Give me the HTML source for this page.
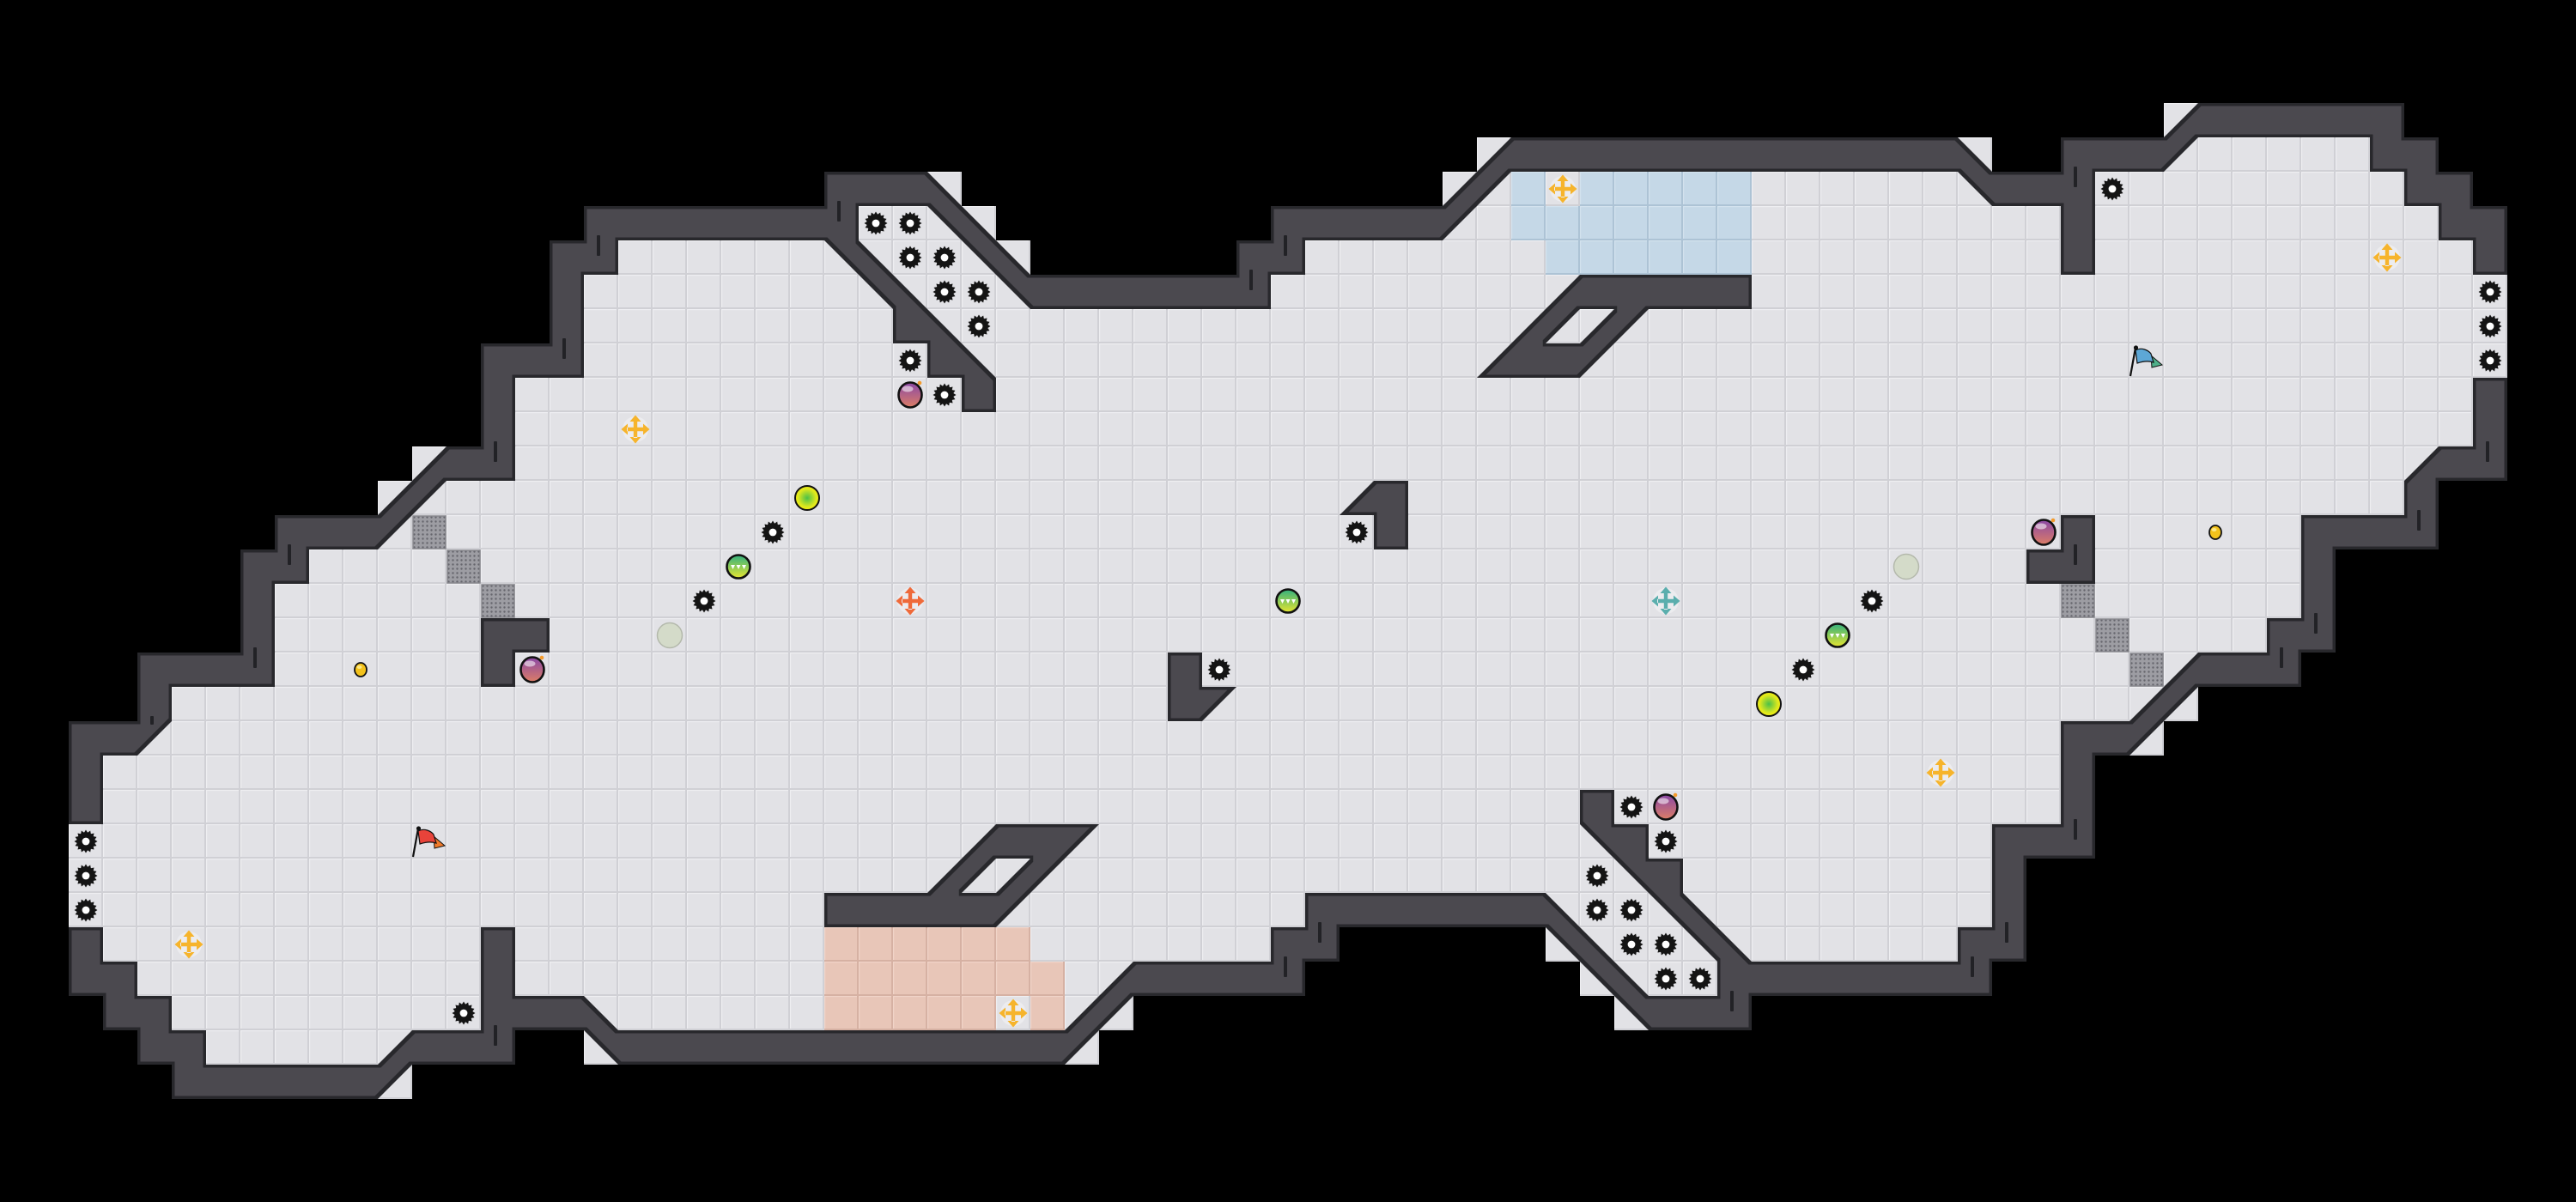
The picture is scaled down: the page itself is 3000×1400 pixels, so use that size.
<!DOCTYPE html>
<html><head><meta charset="utf-8"><style>
html,body{margin:0;padding:0;background:#000;}
svg{display:block;}
</style></head><body>
<svg xmlns="http://www.w3.org/2000/svg" xmlns:xlink="http://www.w3.org/1999/xlink" width="3000" height="1400" viewBox="0 0 3000 1400">
<defs>
<pattern id="fl" width="40" height="40" patternUnits="userSpaceOnUse">
<rect width="40" height="40" fill="#e2e2e6"/>
<rect width="40" height="1.2" fill="#eeeef1"/>
<rect width="1.2" height="40" fill="#eeeef1"/>
<rect x="38" width="2" height="40" fill="#d0d0d5"/>
<rect y="38" width="40" height="2" fill="#d0d0d5"/>
</pattern>
<pattern id="bl" width="40" height="40" patternUnits="userSpaceOnUse">
<rect width="40" height="40" fill="#c5d8e7"/>
<rect width="40" height="1.2" fill="#d3e2ee"/>
<rect width="1.2" height="40" fill="#d3e2ee"/>
<rect x="38" width="2" height="40" fill="#adc3d5"/>
<rect y="38" width="40" height="2" fill="#adc3d5"/>
</pattern>
<pattern id="pc" width="40" height="40" patternUnits="userSpaceOnUse">
<rect width="40" height="40" fill="#e8c6b8"/>
<rect width="40" height="1.2" fill="#f0d4c8"/>
<rect width="1.2" height="40" fill="#f0d4c8"/>
<rect x="38" width="2" height="40" fill="#d6b1a3"/>
<rect y="38" width="40" height="2" fill="#d6b1a3"/>
</pattern>
<pattern id="mp" width="5" height="5" patternUnits="userSpaceOnUse">
<rect width="5" height="5" fill="#9d9da3"/>
<circle cx="2.5" cy="2.5" r="1.2" fill="#66666d"/>
</pattern>
<filter id="er" filterUnits="userSpaceOnUse" x="0" y="0" width="3000" height="1400">
<feMorphology operator="erode" radius="3.5"/>
</filter>
<linearGradient id="gb" x1="0" y1="0" x2="0" y2="1">
<stop offset="0" stop-color="#8a48a6"/><stop offset="1" stop-color="#dc7d66"/>
</linearGradient>
<radialGradient id="gy" cx="0.5" cy="0.5" r="0.5">
<stop offset="0" stop-color="#4cc048"/><stop offset="0.75" stop-color="#dde81e"/><stop offset="1" stop-color="#f3ee12"/>
</radialGradient>
<linearGradient id="gg" x1="0" y1="0" x2="0" y2="1">
<stop offset="0" stop-color="#33b07e"/><stop offset="1" stop-color="#e6e630"/>
</linearGradient>
<path id="walls" d="
M2560 120h240v40h-240z M2560 120v40h-40z
M1760 160h520v40h-520z M2400 160h120v40h-120z M2760 160h80v40h-80z M1760 160v40h-40z M2280 160L2320 200h-40z M2520 160h40L2520 200z
M960 200h120v40h-120z M2320 200h120v40h-120z M2800 200h80v40h-80z M1080 200L1120 240h-40z M1720 200v40h-40z M1720 200h40L1720 240z M2280 200h40v40z
M680 240h320v40h-320z M1480 240h200v40h-200z M2400 240h40v40h-40z M2840 240h80v40h-80z M1080 240h40v40z M1120 240L1160 280h-40z M1680 240h40L1680 280z
M640 280h80v40h-80z M1440 280h80v40h-80z M2400 280h40v40h-40z M2880 280h40v40h-40z M960 280h40v40z M1000 280L1040 320h-40z M1120 280h40v40z M1160 280L1200 320h-40z
M640 320h40v40h-40z M1200 320h280v40h-280z M1840 320h200v40h-200z M1000 320h40v40z M1040 320L1080 360h-40z M1160 320h40v40z M1840 320v40h-40z
M640 360h40v40h-40z M1040 360h40v40h-40z M1080 360L1120 400h-40z M1800 360v40h-40z M1800 360h40L1800 400z M1880 360v40h-40z M1880 360h40L1880 400z
M560 400h120v40h-120z M1080 400h40v40h-40z M1760 400h80v40h-80z M1120 400L1160 440h-40z M1760 400v40h-40z M1840 400h40L1840 440z
M560 440h40v40h-40z M1120 440h40v40h-40z M2880 440h40v40h-40z
M560 480h40v40h-40z M2880 480h40v40h-40z
M520 520h80v40h-80z M2840 520h80v40h-80z M520 520v40h-40z M2840 520v40h-40z
M1600 560h40v40h-40z M2800 560h40v40h-40z M480 560v40h-40z M480 560h40L480 600z M1600 560v40h-40z
M320 600h120v40h-120z M1600 600h40v40h-40z M2400 600h40v40h-40z M2680 600h160v40h-160z M440 600h40L440 640z
M280 640h80v40h-80z M2360 640h80v40h-80z M2680 640h40v40h-40z
M280 680h40v40h-40z M2680 680h40v40h-40z
M280 720h40v40h-40z M560 720h80v40h-80z M2640 720h80v40h-80z
M160 760h160v40h-160z M560 760h40v40h-40z M1360 760h40v40h-40z M2560 760h120v40h-120z M2560 760v40h-40z
M160 800h40v40h-40z M1360 800h40v40h-40z M1400 800h40L1400 840z M2520 800v40h-40z M2520 800h40L2520 840z
M80 840h80v40h-80z M2400 840h80v40h-80z M160 840h40L160 880z M2480 840h40L2480 880z
M80 880h40v40h-40z M2400 880h40v40h-40z
M80 920h40v40h-40z M1840 920h40v40h-40z M2400 920h40v40h-40z
M1160 960h80v40h-80z M1880 960h40v40h-40z M2320 960h120v40h-120z M1160 960v40h-40z M1240 960h40L1240 1000z M1840 960h40v40z
M1920 1000h40v40h-40z M2320 1000h40v40h-40z M1120 1000v40h-40z M1120 1000h40L1120 1040z M1200 1000v40h-40z M1200 1000h40L1200 1040z M1880 1000h40v40z
M960 1040h200v40h-200z M1520 1040h280v40h-280z M2320 1040h40v40h-40z M1160 1040h40L1160 1080z M1800 1040L1840 1080h-40z M1920 1040h40v40z M1960 1040L2000 1080h-40z
M80 1080h40v40h-40z M560 1080h40v40h-40z M1480 1080h80v40h-80z M2280 1080h80v40h-80z M1800 1080h40v40z M1840 1080L1880 1120h-40z M1960 1080h40v40z M2000 1080L2040 1120h-40z
M80 1120h80v40h-80z M560 1120h40v40h-40z M1320 1120h200v40h-200z M2000 1120h320v40h-320z M1320 1120v40h-40z M1840 1120h40v40z M1880 1120L1920 1160h-40z
M120 1160h80v40h-80z M560 1160h120v40h-120z M1920 1160h120v40h-120z M680 1160L720 1200h-40z M1280 1160v40h-40z M1280 1160h40L1280 1200z M1880 1160h40v40z
M160 1200h80v40h-80z M480 1200h120v40h-120z M720 1200h520v40h-520z M480 1200v40h-40z M680 1200h40v40z M1240 1200h40L1240 1240z
M200 1240h240v40h-240z M440 1240h40L440 1280z"/>
<g id="gear"><path d="M13.5 0L10.3 2.05L12.47 5.17L8.73 5.83L9.55 9.55L5.83 8.73L5.17 12.47L2.05 10.3L0 13.5L-2.05 10.3L-5.17 12.47L-5.83 8.73L-9.55 9.55L-8.73 5.83L-12.47 5.17L-10.3 2.05L-13.5 0L-10.3 -2.05L-12.47 -5.17L-8.73 -5.83L-9.55 -9.55L-5.83 -8.73L-5.17 -12.47L-2.05 -10.3L0 -13.5L2.05 -10.3L5.17 -12.47L5.83 -8.73L9.55 -9.55L8.73 -5.83L12.47 -5.17L10.3 -2.05Z" fill="#141414"/><circle r="10.6" fill="#141414"/><circle r="4.4" fill="#fff"/></g>
<g id="bomb"><ellipse rx="13.5" ry="14.5" fill="url(#gb)" stroke="#111" stroke-width="2.6"/><ellipse cx="-3" cy="-7" rx="6.5" ry="3.5" fill="#fff" opacity="0.55"/><circle cx="11" cy="-14" r="2.3" fill="#f39a2b"/></g>
<g id="yb"><circle r="14" fill="url(#gy)" stroke="#111" stroke-width="2"/></g>
<g id="gv"><circle r="13.5" fill="url(#gg)" stroke="#111" stroke-width="2.6"/><path d="M-9 -2h5l-2.5 5z M-2.5 -2h5l-2.5 5z M4 -2h5l-2.5 5z" fill="#fff"/></g>
<g id="lc"><circle r="14.5" fill="#d4dbc9" stroke="#b4b9ac" stroke-width="1.5"/></g>
<g id="coin"><ellipse rx="7" ry="8" fill="#f3c21c" stroke="#111" stroke-width="1.8"/><ellipse cx="-1.5" cy="-3" rx="3" ry="2" fill="#fff2a0" opacity="0.8"/></g>
<path id="crs" d="M-10 -2.2h20v4.4h-20z M-2.2 -10h4.4v20h-4.4z M9 -6.5L16.5 0L9 6.5z M-9 -6.5L-16.5 0L-9 6.5z M-6.5 -9L0 -16.5L6.5 -9z M-6.5 9L0 16.5L6.5 9z"/>
</defs>

<rect width="3000" height="1400" fill="#000"/>

<!-- floor -->
<g fill="url(#fl)">
<rect x="2520" y="120" width="280" height="40"/>
<rect x="1720" y="160" width="600" height="40"/><rect x="2400" y="160" width="440" height="40"/>
<rect x="960" y="200" width="160" height="40"/><rect x="1680" y="200" width="1200" height="40"/>
<rect x="680" y="240" width="480" height="40"/><rect x="1480" y="240" width="1440" height="40"/>
<rect x="640" y="280" width="560" height="40"/><rect x="1440" y="280" width="1480" height="40"/>
<rect x="640" y="320" width="2280" height="80"/>
<rect x="560" y="400" width="2360" height="120"/>
<rect x="480" y="520" width="2440" height="40"/>
<rect x="440" y="560" width="2400" height="40"/>
<rect x="320" y="600" width="2520" height="40"/>
<rect x="280" y="640" width="2440" height="120"/>
<rect x="160" y="760" width="2520" height="40"/>
<rect x="160" y="800" width="2400" height="40"/>
<rect x="80" y="840" width="2440" height="40"/>
<rect x="80" y="880" width="2360" height="120"/>
<rect x="80" y="1000" width="2280" height="80"/>
<rect x="80" y="1080" width="1480" height="40"/><rect x="1800" y="1080" width="560" height="40"/>
<rect x="80" y="1120" width="1440" height="40"/><rect x="1840" y="1120" width="480" height="40"/>
<rect x="120" y="1160" width="1200" height="40"/><rect x="1880" y="1160" width="160" height="40"/>
<rect x="160" y="1200" width="440" height="40"/><rect x="680" y="1200" width="600" height="40"/>
<rect x="200" y="1240" width="280" height="40"/>
</g>

<!-- blue zone -->
<g fill="url(#bl)">
<rect x="1760" y="200" width="40" height="40"/><rect x="1840" y="200" width="200" height="40"/>
<rect x="1760" y="240" width="280" height="40"/>
<rect x="1800" y="280" width="240" height="40"/>
</g>
<!-- peach zone -->
<g fill="url(#pc)">
<rect x="960" y="1080" width="240" height="40"/>
<rect x="960" y="1120" width="280" height="40"/>
<rect x="960" y="1160" width="200" height="40"/><rect x="1200" y="1160" width="40" height="40"/>
</g>

<!-- mesh tiles -->
<g fill="url(#mp)" stroke="#87878d" stroke-width="1.5">
<rect x="481" y="601" width="38" height="38"/>
<rect x="521" y="641" width="38" height="38"/>
<rect x="561" y="681" width="38" height="38"/>
<rect x="2401" y="681" width="38" height="38"/>
<rect x="2441" y="721" width="38" height="38"/>
<rect x="2481" y="761" width="38" height="38"/>
</g>

<!-- walls -->
<use href="#walls" xlink:href="#walls" fill="#28282c"/>
<use href="#walls" xlink:href="#walls" fill="#4b4a50" filter="url(#er)"/>

<!-- wall ticks -->
<g fill="#222226">
<rect x="695" y="274" width="4" height="24" rx="1"/>
<rect x="655" y="394" width="4" height="24" rx="1"/>
<rect x="575" y="514" width="4" height="24" rx="1"/>
<rect x="335" y="634" width="4" height="24" rx="1"/>
<rect x="295" y="754" width="4" height="24" rx="1"/>
<rect x="175" y="834" width="4" height="10" rx="1"/>
<rect x="575" y="1194" width="4" height="24" rx="1"/>
<rect x="975" y="234" width="4" height="24" rx="1"/>
<rect x="1455" y="314" width="4" height="24" rx="1"/>
<rect x="1495" y="274" width="4" height="24" rx="1"/>
<rect x="2415" y="194" width="4" height="24" rx="1"/>
<rect x="2895" y="514" width="4" height="24" rx="1"/>
<rect x="2815" y="594" width="4" height="24" rx="1"/>
<rect x="2695" y="714" width="4" height="24" rx="1"/>
<rect x="2655" y="754" width="4" height="24" rx="1"/>
<rect x="2415" y="634" width="4" height="24" rx="1"/>
<rect x="2415" y="954" width="4" height="24" rx="1"/>
<rect x="2335" y="1074" width="4" height="24" rx="1"/>
<rect x="2295" y="1114" width="4" height="24" rx="1"/>
<rect x="1535" y="1074" width="4" height="24" rx="1"/>
<rect x="1495" y="1114" width="4" height="24" rx="1"/>
<rect x="2015" y="1154" width="4" height="24" rx="1"/>
</g>

<!-- gears -->
<g>
<use href="#gear" xlink:href="#gear" x="100" y="980"/>
<use href="#gear" xlink:href="#gear" x="100" y="1020"/>
<use href="#gear" xlink:href="#gear" x="100" y="1060"/>
<use href="#gear" xlink:href="#gear" x="540" y="1180"/>
<use href="#gear" xlink:href="#gear" x="1020" y="260"/>
<use href="#gear" xlink:href="#gear" x="1060" y="260"/>
<use href="#gear" xlink:href="#gear" x="1060" y="300"/>
<use href="#gear" xlink:href="#gear" x="1100" y="300"/>
<use href="#gear" xlink:href="#gear" x="1100" y="340"/>
<use href="#gear" xlink:href="#gear" x="1140" y="340"/>
<use href="#gear" xlink:href="#gear" x="1140" y="380"/>
<use href="#gear" xlink:href="#gear" x="1060" y="420"/>
<use href="#gear" xlink:href="#gear" x="1100" y="460"/>
<use href="#gear" xlink:href="#gear" x="900" y="620"/>
<use href="#gear" xlink:href="#gear" x="820" y="700"/>
<use href="#gear" xlink:href="#gear" x="1420" y="780"/>
<use href="#gear" xlink:href="#gear" x="1580" y="620"/>
<use href="#gear" xlink:href="#gear" x="2100" y="780"/>
<use href="#gear" xlink:href="#gear" x="2180" y="700"/>
<use href="#gear" xlink:href="#gear" x="1900" y="940"/>
<use href="#gear" xlink:href="#gear" x="1940" y="980"/>
<use href="#gear" xlink:href="#gear" x="1860" y="1020"/>
<use href="#gear" xlink:href="#gear" x="1860" y="1060"/>
<use href="#gear" xlink:href="#gear" x="1900" y="1060"/>
<use href="#gear" xlink:href="#gear" x="1900" y="1100"/>
<use href="#gear" xlink:href="#gear" x="1940" y="1100"/>
<use href="#gear" xlink:href="#gear" x="1940" y="1140"/>
<use href="#gear" xlink:href="#gear" x="1980" y="1140"/>
<use href="#gear" xlink:href="#gear" x="2460" y="220"/>
<use href="#gear" xlink:href="#gear" x="2900" y="340"/>
<use href="#gear" xlink:href="#gear" x="2900" y="380"/>
<use href="#gear" xlink:href="#gear" x="2900" y="420"/>
</g>

<!-- bombs -->
<use href="#bomb" xlink:href="#bomb" x="1060" y="460"/>
<use href="#bomb" xlink:href="#bomb" x="620" y="780"/>
<use href="#bomb" xlink:href="#bomb" x="1940" y="940"/>
<use href="#bomb" xlink:href="#bomb" x="2380" y="620"/>

<!-- balls -->
<use href="#yb" xlink:href="#yb" x="940" y="580"/>
<use href="#yb" xlink:href="#yb" x="2060" y="820"/>
<use href="#gv" xlink:href="#gv" x="860" y="660"/>
<use href="#gv" xlink:href="#gv" x="1500" y="700"/>
<use href="#gv" xlink:href="#gv" x="2140" y="740"/>
<use href="#lc" xlink:href="#lc" x="780" y="740"/>
<use href="#lc" xlink:href="#lc" x="2220" y="660"/>
<use href="#coin" xlink:href="#coin" x="420" y="780"/>
<use href="#coin" xlink:href="#coin" x="2580" y="620"/>

<!-- crosses -->
<g>
<g transform="translate(740,500)"><circle r="15" fill="#ececef"/><use href="#crs" xlink:href="#crs" fill="#f6b42c"/></g>
<g transform="translate(220,1100)"><circle r="15" fill="#ececef"/><use href="#crs" xlink:href="#crs" fill="#f6b42c"/></g>
<g transform="translate(1180,1180)"><circle r="15" fill="#ececef"/><use href="#crs" xlink:href="#crs" fill="#f6b42c"/></g>
<g transform="translate(1820,220)"><circle r="15" fill="#ececef"/><use href="#crs" xlink:href="#crs" fill="#f6b42c"/></g>
<g transform="translate(2780,300)"><circle r="15" fill="#ececef"/><use href="#crs" xlink:href="#crs" fill="#f6b42c"/></g>
<g transform="translate(2260,900)"><circle r="15" fill="#ececef"/><use href="#crs" xlink:href="#crs" fill="#f6b42c"/></g>
<g transform="translate(1060,700)"><circle r="15" fill="#ececef"/><use href="#crs" xlink:href="#crs" fill="#ef6a3a"/></g>
<g transform="translate(1940,700)"><circle r="15" fill="#ececef"/><use href="#crs" xlink:href="#crs" fill="#5aaead"/></g>
</g>

<!-- flags -->
<g transform="translate(500,980)">
<line x1="-19" y1="18" x2="-13" y2="-15" stroke="#111" stroke-width="2.2"/>
<circle cx="-12.5" cy="-15" r="2.6" fill="#111"/>
<path d="M5 -6L18 5L6 8z" fill="#f07a2a" stroke="#111" stroke-width="1"/>
<path d="M-13 -12C-6 -16 2 -12 5 -8L8 2C2 0 -5 1 -11 3z" fill="#e8433a" stroke="#111" stroke-width="1.2"/>
</g>
<g transform="translate(2500,420)">
<line x1="-19" y1="18" x2="-13" y2="-15" stroke="#111" stroke-width="2.2"/>
<circle cx="-12.5" cy="-15" r="2.6" fill="#111"/>
<path d="M5 -6L18 5L6 8z" fill="#4fb08a" stroke="#111" stroke-width="1"/>
<path d="M-13 -12C-6 -16 2 -12 5 -8L8 2C2 0 -5 1 -11 3z" fill="#5da7d6" stroke="#111" stroke-width="1.2"/>
</g>
</svg>
</body></html>
